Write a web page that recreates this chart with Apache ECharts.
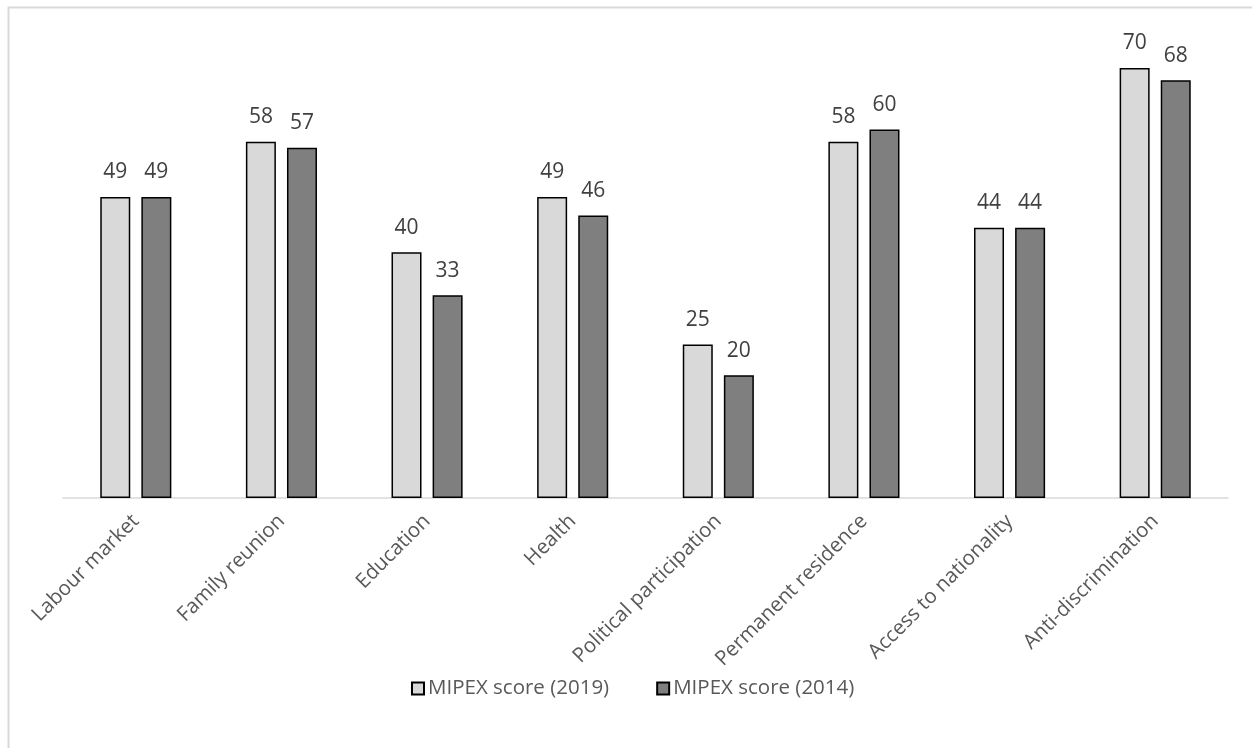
<!DOCTYPE html>
<html>
<head>
<meta charset="utf-8">
<script src="https://cdn.jsdelivr.net/npm/echarts@6/dist/echarts.min.js"></script>
<style>
  html, body { margin: 0; padding: 0; background: #fff; }
  #chart { width: 1252px; height: 748px; }
</style>
</head>
<body>
<div id="chart"></div>
<script>
// MIPEX policy area scores, 2019 vs 2014
const categories = [
  'Labour market', 'Family reunion', 'Education', 'Health',
  'Political participation', 'Permanent residence',
  'Access to nationality', 'Anti-discrimination'
];
const score2019 = [49, 58, 40, 49, 25, 58, 44, 70];
const score2014 = [49, 57, 33, 46, 20, 60, 44, 68];
const seriesNames = ['MIPEX score (2019)', 'MIPEX score (2014)'];

const FONT = 'Open Sans';
const chart = echarts.init(document.getElementById('chart'));

const labelStyle = {
  show: true,
  position: 'top',
  distance: 14,
  color: '#404040',
  fontFamily: FONT,
  fontSize: 21
};

chart.setOption({
  animation: false,
  backgroundColor: '#ffffff',
  graphic: [{
    type: 'rect',
    shape: { x: 8.5, y: 7.5, width: 1300, height: 800 },
    style: { fill: 'none', stroke: '#d9d9d9', lineWidth: 2 },
    silent: true
  }],
  legend: {
    bottom: 49,
    left: 411,
    padding: 0,
    itemWidth: 12,
    itemHeight: 12,
    itemGap: 47,
    icon: 'rect',
    textStyle: { color: '#595959', fontFamily: FONT, fontSize: 20.5, padding: [0, 0, 0, -1] },
    data: seriesNames
  },
  grid: { left: 63, right: 24, top: 6.5, bottom: 250, containLabel: false },
  xAxis: {
    type: 'category',
    data: categories,
    axisLine: { lineStyle: { color: '#d9d9d9', width: 1.5 } },
    axisTick: { show: false },
    axisLabel: {
      rotate: 45,
      interval: 0,
      margin: 20,
      color: '#595959',
      fontFamily: FONT,
      fontSize: 20.5,
      padding: [14, 0, 0, 0]
    }
  },
  yAxis: {
    type: 'value',
    min: 0,
    max: 80,
    show: false,
    splitLine: { show: false }
  },
  series: [
    {
      name: seriesNames[0],
      type: 'bar',
      data: score2019,
      barWidth: 30,
      barGap: '37%',
      itemStyle: { color: '#d9d9d9', borderColor: '#000', borderWidth: 1.5 },
      label: labelStyle
    },
    {
      name: seriesNames[1],
      type: 'bar',
      data: score2014,
      barWidth: 30,
      barGap: '37%',
      itemStyle: { color: '#7f7f7f', borderColor: '#000', borderWidth: 1.5 },
      label: labelStyle
    }
  ]
});
</script>
</body>
</html>
